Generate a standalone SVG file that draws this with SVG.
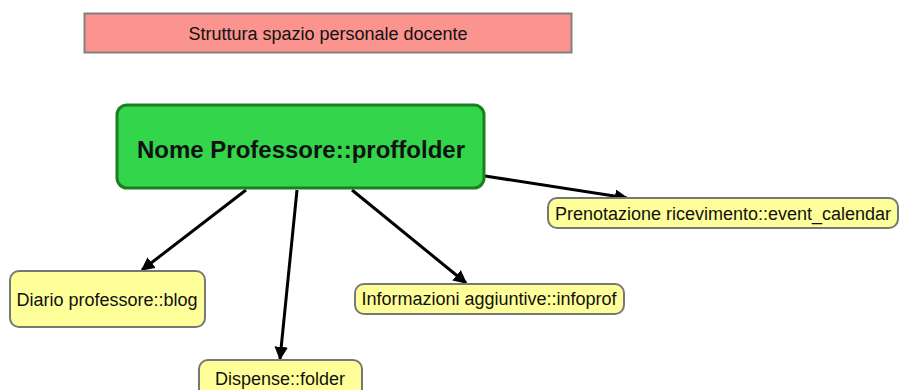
<svg xmlns="http://www.w3.org/2000/svg" width="900" height="390" viewBox="0 0 900 390">
<style>
text{font-family:"Liberation Sans",Arial,sans-serif;fill:#111;}
.leaf rect{fill:#ffff99;stroke:#777;stroke-width:2;}
.leaf text{font-size:18px;text-anchor:middle;}
.conn line{stroke:#000;stroke-width:3;marker-end:url(#ah);}
</style>
<defs>
<marker id="ah" viewBox="0 0 10 10" refX="9" refY="5" markerWidth="4.5" markerHeight="4.5" orient="auto" markerUnits="strokeWidth">
<path d="M0,0 L10,5 L0,10 z" fill="#000"/>
</marker>
</defs>
<rect width="900" height="390" fill="#fff"/>
<g id="title">
<rect x="84.5" y="13.5" width="487" height="39" fill="#fb938e" stroke="#808080" stroke-width="2"/>
<text x="328" y="40" font-size="18" text-anchor="middle">Struttura spazio personale docente</text>
</g>
<g class="conn">
<line x1="246" y1="190" x2="142" y2="270"/>
<line x1="297" y1="190" x2="280" y2="359"/>
<line x1="352" y1="190" x2="466" y2="283"/>
<line x1="485" y1="176" x2="627" y2="198"/>
</g>
<g id="root">
<rect x="117" y="105" width="367" height="83" rx="10" fill="#33d64a" stroke="#1b7f22" stroke-width="3"/>
<text x="301" y="158" font-size="24" font-weight="bold" text-anchor="middle">Nome Professore::proffolder</text>
</g>
<g id="blog" class="leaf">
<rect x="10" y="271" width="195" height="56" rx="9"/>
<text x="107" y="306">Diario professore::blog</text>
</g>
<g id="folder" class="leaf">
<rect x="199" y="360" width="163" height="40" rx="9"/>
<text x="280" y="385">Dispense::folder</text>
</g>
<g id="infoprof" class="leaf">
<rect x="355" y="284" width="269" height="30" rx="9"/>
<text x="489" y="305">Informazioni aggiuntive::infoprof</text>
</g>
<g id="calendar" class="leaf">
<rect x="548" y="198" width="350" height="30" rx="9"/>
<text x="723" y="220">Prenotazione ricevimento::event_calendar</text>
</g>
</svg>
